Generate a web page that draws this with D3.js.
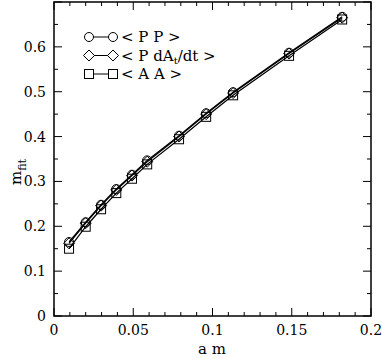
<!DOCTYPE html>
<html>
<head>
<script src="https://d3js.org/d3.v7.min.js"></script>
<style>
  body { margin: 0; background: #fff; }
</style>
</head>
<body>
<script>
var am = [0.0095, 0.0200, 0.0297, 0.0393, 0.0492, 0.0588, 0.0789, 0.0960, 0.1130, 0.1483, 0.1818];
var pp = [0.165, 0.209, 0.248, 0.283, 0.315, 0.347, 0.402, 0.452, 0.499, 0.587, 0.667];
var pdA = [0.162, 0.207, 0.246, 0.281, 0.313, 0.344, 0.400, 0.450, 0.497, 0.585, 0.665];
var aa = [0.150, 0.199, 0.238, 0.274, 0.306, 0.338, 0.394, 0.444, 0.492, 0.580, 0.661];
var xTicks = [0, 0.05, 0.1, 0.15, 0.2];
var yTicks = [0, 0.1, 0.2, 0.3, 0.4, 0.5, 0.6];
var legendLabels = ["< P P >", "< P dA", "< A A >"];

var width = 382, height = 359;
var x = d3.scaleLinear().domain([0, 0.2]).range([54, 371]);
var y = d3.scaleLinear().domain([0, 0.7]).range([316, 2]);

var svg = d3.select("body").append("svg").attr("width", width).attr("height", height)
  .style("font-family", "'DejaVu Serif', serif");

var xMinor = d3.range(0, 0.2001, 0.01), yMinor = d3.range(0, 0.7001, 0.05);
var tk = svg.append("g").attr("stroke", "#000").attr("stroke-width", 1);
xMinor.forEach(function(v, i) {
  var len = (i % 5 === 0) ? 8 : 4;
  tk.append("line").attr("x1", x(v)).attr("x2", x(v)).attr("y1", 316).attr("y2", 316 - len);
  tk.append("line").attr("x1", x(v)).attr("x2", x(v)).attr("y1", 2).attr("y2", 2 + len);
});
yMinor.forEach(function(v, i) {
  var len = (i % 2 === 0) ? 8 : 4;
  tk.append("line").attr("y1", y(v)).attr("y2", y(v)).attr("x1", 54).attr("x2", 54 + len);
  tk.append("line").attr("y1", y(v)).attr("y2", y(v)).attr("x1", 371).attr("x2", 371 - len);
});
svg.append("rect").attr("x", 54).attr("y", 2).attr("width", 317).attr("height", 314)
  .attr("fill", "none").attr("stroke", "#000").attr("stroke-width", 1.5);

svg.selectAll(".xl").data(xTicks).enter().append("text")
  .attr("x", function(d) { return x(d); }).attr("y", 335)
  .attr("text-anchor", "middle").attr("font-size", 14)
  .text(function(d) { return d; });
svg.selectAll(".yl").data(yTicks).enter().append("text")
  .attr("x", 46).attr("y", function(d) { return y(d) + 5; })
  .attr("text-anchor", "end").attr("font-size", 14)
  .text(function(d) { return d; });

svg.append("text").attr("x", 212).attr("y", 354).attr("text-anchor", "middle")
  .attr("font-size", 15).text("a m");
var yl = svg.append("text").attr("transform", "translate(21,172) rotate(-90)")
  .attr("text-anchor", "middle").attr("font-size", 15);
yl.append("tspan").text("m");
yl.append("tspan").attr("font-size", 11).attr("dy", 5).text("fit");

function sym(g, type, cx, cy) {
  if (type === "circle") {
    g.append("circle").attr("cx", cx).attr("cy", cy).attr("r", 4.5);
  } else if (type === "diamond") {
    g.append("path").attr("d", "M" + cx + "," + (cy - 5.5) + "L" + (cx + 5.5) + "," + cy + "L" + cx + "," + (cy + 5.5) + "L" + (cx - 5.5) + "," + cy + "Z");
  } else {
    g.append("rect").attr("x", cx - 4.5).attr("y", cy - 4.5).attr("width", 9).attr("height", 9);
  }
}

var series = [
  { vals: pp, type: "circle" },
  { vals: pdA, type: "diamond" },
  { vals: aa, type: "square" }
];
var line = d3.line().x(function(d) { return x(d[0]); }).y(function(d) { return y(d[1]); });

series.forEach(function(s) {
  var pts = am.map(function(v, i) { return [v, s.vals[i]]; });
  svg.append("path").datum(pts).attr("d", line)
    .attr("fill", "none").attr("stroke", "#000").attr("stroke-width", 1.2);
  var g = svg.append("g").attr("fill", "none").attr("stroke", "#000").attr("stroke-width", 1);
  pts.forEach(function(p) { sym(g, s.type, x(p[0]), y(p[1])); });
});

// legend
var lg = svg.append("g");
series.forEach(function(s, i) {
  var ly = 37 + i * 18.5;
  lg.append("line").attr("x1", 89).attr("x2", 113).attr("y1", ly).attr("y2", ly)
    .attr("stroke", "#000").attr("stroke-width", 1);
  var g = lg.append("g").attr("fill", "#fff").attr("stroke", "#000").attr("stroke-width", 1);
  sym(g, s.type, 89, ly);
  sym(g, s.type, 113, ly);
  var t = lg.append("text").attr("x", 121).attr("y", ly + 5).attr("font-size", 15);
  if (i === 1) {
    t.append("tspan").text("< P dA");
    t.append("tspan").attr("font-size", 10).attr("dy", 3).text("t");
    t.append("tspan").attr("dy", -3).text("/dt >");
  } else {
    t.text(legendLabels[i]);
  }
});
</script>
</body>
</html>
